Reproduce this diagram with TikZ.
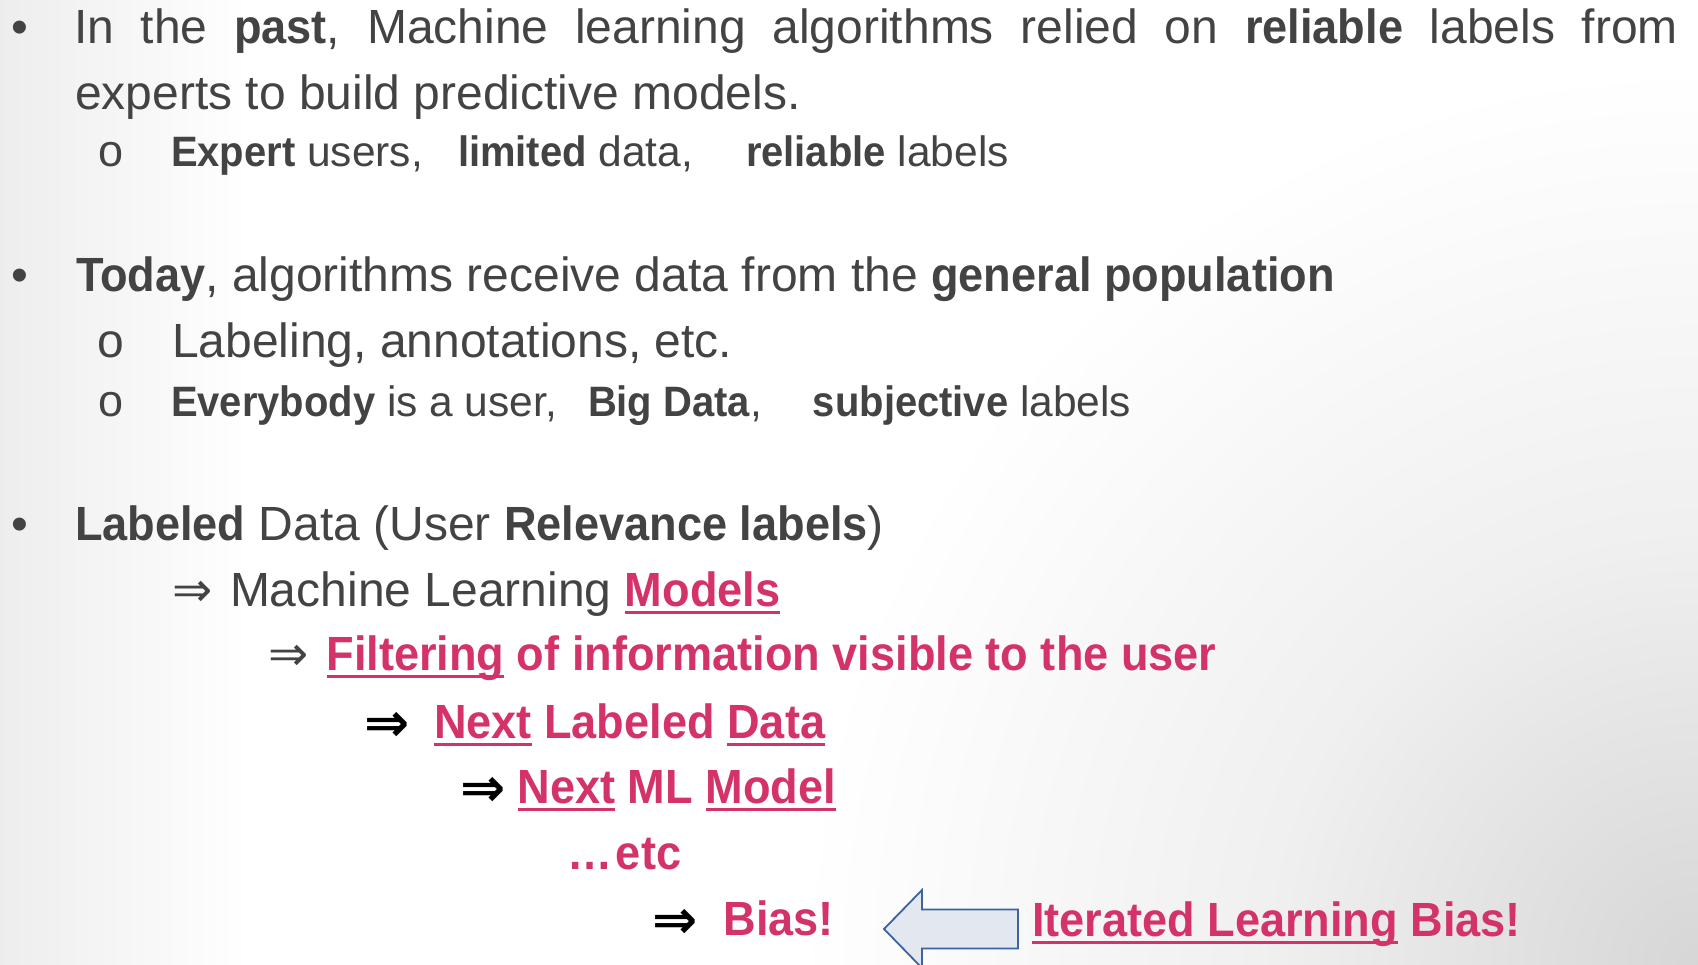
\documentclass[tikz,border=0pt]{standalone}
\usepackage{fontspec}
\setmainfont{Liberation Sans}[BoldFeatures={FakeStretch=0.94}]
\newfontfamily\arrowfont{DejaVu Sans}
\definecolor{txtgrey}{HTML}{434343}
\definecolor{accent}{HTML}{D33369}
\definecolor{arrfill}{HTML}{E2E7F0}
\definecolor{arrline}{HTML}{3A63A0}
\pgfdeclareradialshading{cornershade}{\pgfpoint{0bp}{0bp}}{color(0bp)=(black!16); color(12bp)=(black!6); color(25bp)=(white); color(50bp)=(white)}
\newcommand\redul[1]{\setbox0=\hbox{#1}\rlap{\rule[-7.5pt]{\wd0}{3pt}}\box0\relax}
\tikzset{
  txt/.style={anchor=base west, inner sep=0pt, outer sep=0pt, text=txtgrey, font=\fontsize{48pt}{58pt}\selectfont},
  subtxt/.style={txt, font=\fontsize{42.5pt}{52pt}\selectfont},
  redtxt/.style={txt, text=accent, font=\fontsize{48pt}{58pt}\selectfont\bfseries},
  garrow/.style={txt, font=\fontsize{48pt}{58pt}\selectfont\arrowfont},
  barrow/.style={txt, text=black, font=\fontsize{54pt}{64pt}\selectfont\arrowfont\bfseries},
  bul/.style={txt},
  obul/.style={txt, font=\fontsize{45pt}{54pt}\selectfont},
  bigarrow/.style={draw=arrline, fill=arrfill, line width=1.8pt, line join=miter}
}
\begin{document}
\frenchspacing
\begin{tikzpicture}[x=1pt, y=-1pt]
\useasboundingbox (0,0) rectangle (1698,965);
\fill[white] (0,0) rectangle (1698,965);
\begin{scope}
  \clip (0,0) rectangle (1698,965);
  \shade[shading=cornershade] (798,65) rectangle (2598,1865);
  \shade[left color=black!7, right color=white] (0,0) rectangle (250,965);
\end{scope}

% bullets
\node[bul] (b1) at (12,44) {•};
\node[bul] (b2) at (12,292) {•};
\node[bul] (b3) at (12,540) {•};

% first bullet
\node[txt] (l1) at (74,44) {\frenchspacing\makebox[1604pt][s]{In the \textbf{past}, Machine learning algorithms relied on \textbf{reliable} labels from}};
\node[txt] (l2) at (75,110) {experts to build predictive models.};
\node[obul] (o1) at (98,167) {o};
\node[subtxt] (l3) at (171,167) {\makebox[287pt][l]{\textbf{Expert} users,}\makebox[288pt][l]{\textbf{limited} data,}\textbf{reliable} labels};

% second bullet
\node[txt] (l4) at (76,292) {\textbf{Today}, algorithms receive data from the \textbf{general population}};
\node[txt] (o2) at (97,358) {o};
\node[txt] (l5) at (172,358) {Labeling, annotations, etc.};
\node[obul] (o3) at (98,417) {o};
\node[subtxt] (l6) at (171,417) {\makebox[417pt][l]{\textbf{Everybody} is a user,}\makebox[225pt][l]{\textbf{Big Data},}\textbf{subjective} labels};

% third bullet
\node[txt] (l7) at (75,540) {\textbf{Labeled} Data (User \textbf{Relevance labels})};
\node[garrow] (a1) at (172,606) {⇒};
\node[txt] (l8) at (230,606) {Machine Learning {\bfseries\color{accent}\redul{Models}}};
\node[garrow] (a2) at (268,670) {⇒};
\node[redtxt] (l9) at (326.5,670) {\redul{Filtering} of information visible to the user};
\node[barrow] (a3) at (364,741) {⇒};
\node[redtxt] (l10) at (434,738) {\redul{Next} Labeled \redul{Data}};
\node[barrow] (a4) at (460,806) {⇒};
\node[redtxt] (l11) at (517.5,803) {\redul{Next} ML \redul{Model}};
\node[redtxt] (l12) at (567,869) {\makebox[49pt][l]{…}etc};
\node[barrow] (a5) at (652,938) {⇒};
\node[redtxt] (l13) at (723.5,935) {Bias!};

% big hollow arrow
\draw[bigarrow] (884,929) -- (922,890) -- (922,909.5) -- (1018,909.5) -- (1018,948.5) -- (922,948.5) -- (922,968) -- cycle;
\node[redtxt] (l14) at (1032,936) {\redul{Iterated Learning} Bias!};
\end{tikzpicture}
\end{document}
